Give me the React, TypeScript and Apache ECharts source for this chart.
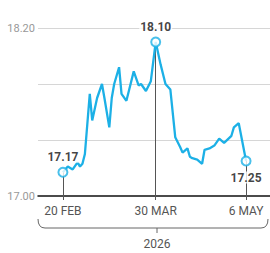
import React, { useEffect, useRef } from "react";
import * as echarts from "echarts";

const startDate = "2026-02-20";
const dates = [
  "2026-02-20", "2026-02-22", "2026-02-24", "2026-02-26", "2026-02-27", "2026-02-28",
  "2026-03-01", "2026-03-03", "2026-03-04", "2026-03-06", "2026-03-08", "2026-03-09",
  "2026-03-11", "2026-03-12", "2026-03-13", "2026-03-15", "2026-03-16", "2026-03-18",
  "2026-03-19", "2026-03-21", "2026-03-23", "2026-03-24", "2026-03-26", "2026-03-28",
  "2026-03-30", "2026-04-01", "2026-04-03", "2026-04-05", "2026-04-07", "2026-04-09",
  "2026-04-10", "2026-04-12", "2026-04-13", "2026-04-14", "2026-04-16", "2026-04-18",
  "2026-04-19", "2026-04-21", "2026-04-23", "2026-04-25", "2026-04-27", "2026-04-30",
  "2026-05-01", "2026-05-03", "2026-05-06",
];
const prices = [
  17.17, 17.21, 17.19, 17.24, 17.21, 17.23,
  17.3, 17.73, 17.54, 17.7, 17.8, 17.7,
  17.49, 17.7, 17.8, 17.92, 17.73, 17.68,
  17.75, 17.89, 17.79, 17.8, 17.75, 17.82,
  18.1, 17.94, 17.8, 17.76, 17.42, 17.35,
  17.31, 17.34, 17.28, 17.27, 17.26, 17.23,
  17.33, 17.34, 17.36, 17.41, 17.38, 17.43,
  17.49, 17.52, 17.25,
];
const tickDates = ["2026-02-20", "2026-03-30", "2026-05-06"];
const tickLabels = ["20 FEB", "30 MAR", "6 MAY"];
const yLabelValues = [17.0, 18.2];
const yGridValues = [17.4, 17.8, 18.2];
const yearLabel = "2026";

const dayOf = (d: string) =>
  Math.round((Date.parse(d) - Date.parse(startDate)) / 86400000);

const BLUE = "#1cb0e6";

echarts.graphic.registerShape(
  "bracket",
  echarts.graphic.extendPath(
    "M0 0 Q0 9 7 9 L223 9 Q230 9 230 0 M119 9 L119 14",
    {}
  ) as any
);

export default function App() {
  const ref = useRef<HTMLDivElement>(null);
  useEffect(() => {
    if (!ref.current) return;
    const chart = echarts.init(ref.current, undefined, { renderer: "svg" });
    const lineData = dates.map((d, i) => [dayOf(d), prices[i]]);
    const maxIdx = prices.indexOf(Math.max(...prices));
    const hiIdx = [0, maxIdx, prices.length - 1];
    const tickDays = tickDates.map(dayOf);
    const labelPos = ["top", "top", "bottom"];
    chart.setOption({
      animation: false,
      grid: { left: 38, right: 0, top: 28, height: 168, containLabel: false },
      xAxis: {
        type: "value",
        min: -10.2,
        max: 84.8,
        axisLine: { show: true, onZero: false, lineStyle: { color: "#111", width: 1.5 } },
        axisTick: {
          show: true,
          customValues: tickDays,
          length: 4,
          lineStyle: { color: "#555", width: 1 },
        },
        axisLabel: {
          customValues: tickDays,
          margin: 9,
          color: "#555",
          fontSize: 12,
          fontFamily: "Roboto",
          formatter: (v: number) => {
            const i = tickDays.indexOf(Math.round(v));
            return i >= 0 ? tickLabels[i] : "";
          },
        },
        splitLine: { show: false },
      },
      yAxis: {
        type: "value",
        min: 17,
        max: 18.2,
        axisLine: { show: false },
        axisTick: { show: false },
        axisLabel: {
          customValues: yLabelValues,
          margin: 3,
          color: "#999",
          fontSize: 11,
          fontFamily: "Roboto",
          formatter: (v: number) => v.toFixed(2),
        },
        splitLine: { show: false },
      },
      series: [
        {
          type: "scatter",
          data: [],
          z: 1,
          silent: true,
          markLine: {
            z: 1,
            silent: true,
            symbol: "none",
            label: { show: false },
            lineStyle: { color: "#d6d6d6", width: 1, type: "solid" },
            data: yGridValues.map((v) => ({ yAxis: v })),
          },
        },
        {
          type: "line",
          data: lineData,
          symbol: "none",
          z: 2,
          lineStyle: { color: BLUE, width: 2.3 },
          markLine: {
            z: 2,
            silent: true,
            symbol: "none",
            label: { show: false },
            lineStyle: { color: "#555", width: 1, type: "solid" },
            data: hiIdx.map((i) => [
              { coord: [dayOf(dates[i]), prices[i]] },
              { coord: [dayOf(dates[i]), 17] },
            ]),
          },
        },
        {
          type: "scatter",
          z: 4,
          symbol: "circle",
          symbolSize: 9,
          itemStyle: { color: "#fff", borderColor: BLUE, borderWidth: 2 },
          data: hiIdx.map((i, k) => ({
            value: [dayOf(dates[i]), prices[i]],
            label: {
              show: true,
              position: labelPos[k],
              distance: k === 2 ? 5 : 4,
              formatter: prices[i].toFixed(2),
              color: "#111",
              fontWeight: "bold",
              fontSize: 12,
              fontFamily: "Roboto",
              backgroundColor: "#fff",
              padding: [0, 1],
            },
          })),
        },
      ],
      graphic: [
        {
          type: "bracket",
          x: 38,
          y: 219,
          silent: true,
          style: { stroke: "#666", fill: "none", lineWidth: 1 },
        },
        {
          type: "text",
          x: 157,
          y: 244,
          style: {
            text: yearLabel,
            fill: "#555",
            fontSize: 12,
            fontFamily: "Roboto",
            align: "center",
            verticalAlign: "middle",
          },
        },
      ],
    });
    return () => chart.dispose();
  }, []);
  return (
    <div
      ref={ref}
      style={{ position: "absolute", left: 0, top: 0, width: 270, height: 253 }}
    />
  );
}
